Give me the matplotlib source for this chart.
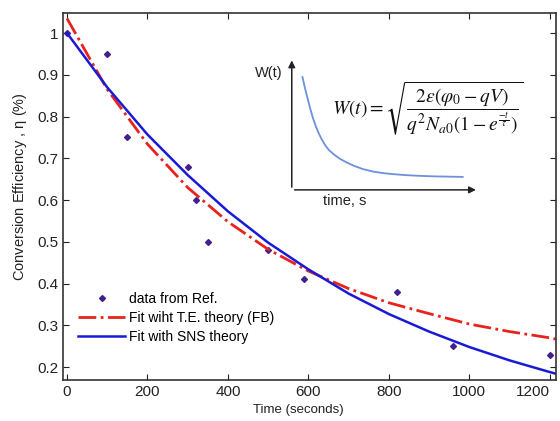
import numpy as np
import matplotlib
matplotlib.use('Agg')
import matplotlib.pyplot as plt

plt.rcParams['font.family'] = ['Liberation Sans', 'DejaVu Sans']
plt.rcParams['mathtext.fontset'] = 'stix'

# data
t_data = [0, 100, 150, 300, 320, 350, 500, 590, 820, 960, 1200]
eta_data = [1.0, 0.95, 0.75, 0.68, 0.60, 0.50, 0.48, 0.41, 0.38, 0.25, 0.23]

t_fit = [0, 100, 200, 300, 400, 500, 600, 700, 800, 900, 1000, 1100, 1200, 1215]
eta_te = [1.035, 0.865, 0.734, 0.630, 0.548, 0.482, 0.430, 0.388, 0.354, 0.328, 0.303, 0.285, 0.270, 0.267]
eta_sns = [1.0, 0.870, 0.757, 0.660, 0.573, 0.498, 0.434, 0.376, 0.327, 0.285, 0.248, 0.216, 0.188, 0.184]

# inset schematic curve W(t)
w_x = [0.06, 0.075, 0.09, 0.105, 0.12, 0.135, 0.15, 0.17, 0.19, 0.21, 0.24, 0.27,
       0.31, 0.35, 0.40, 0.46, 0.52, 0.58, 0.65, 0.72, 0.80, 0.88, 0.96]
w_y = [0.87, 0.78, 0.70, 0.62, 0.55, 0.49, 0.44, 0.385, 0.34, 0.305, 0.27, 0.24,
       0.21, 0.185, 0.16, 0.14, 0.128, 0.12, 0.113, 0.108, 0.104, 0.102, 0.10]

fig = plt.figure(figsize=(5.6, 4.21), dpi=100)
ax = fig.add_axes([0.1125, 0.0974, 0.880, 0.8716])

ax.plot(t_data, eta_data, 'D', color='#42208c', markersize=3, label='data from Ref.')
ax.plot(t_fit, eta_te, '-.', color='#e8231c', linewidth=2, label='Fit wiht T.E. theory (FB)')
ax.plot(t_fit, eta_sns, '-', color='#1a1ad6', linewidth=1.8, label='Fit with SNS theory')

ax.set_xlim(-10, 1215)
ax.set_ylim(0.169, 1.048)
ax.set_xticks([0, 200, 400, 600, 800, 1000, 1200])
ax.set_yticks([0.2, 0.3, 0.4, 0.5, 0.6, 0.7, 0.8, 0.9, 1])
ax.set_yticklabels(['0.2', '0.3', '0.4', '0.5', '0.6', '0.7', '0.8', '0.9', '1'])
ax.tick_params(direction='in', top=True, right=True, labelsize=11, colors='#222222', length=4)
ax.get_xticklabels()[-1].set_horizontalalignment('right')
ax.set_xlabel('Time (seconds)', fontsize=9.5, color='#222222')
ax.xaxis.set_label_coords(0.478, -0.066)
ax.set_ylabel('Conversion Efficiency , $\\mathregular{\\eta}$ (%)', fontsize=10.5, color='#222222')
ax.yaxis.set_label_coords(-0.07, 0.526)
for s in ax.spines.values():
    s.set_color('#333333')
    s.set_linewidth(1.2)

ax.legend(loc='lower left', bbox_to_anchor=(0.005, 0.065), frameon=False, fontsize=10,
          handlelength=3.4, handletextpad=0.3, labelspacing=0.35)

# inset
ins = fig.add_axes([0.521, 0.549, 0.318, 0.308])
ins.set_xlim(0, 1)
ins.set_ylim(0, 1)
ins.axis('off')
ins.annotate('', xy=(0, 1.02), xytext=(0, 0), xycoords='axes fraction',
             arrowprops=dict(arrowstyle='-|>', color='#222222', lw=1.1, mutation_scale=10))
ins.annotate('', xy=(1.05, 0), xytext=(0, 0), xycoords='axes fraction',
             arrowprops=dict(arrowstyle='-|>', color='#222222', lw=1.1, mutation_scale=10))
ins.plot(w_x, w_y, color='#6d8fdc', linewidth=1.3)
ins.text(-0.05, 0.9, 'W(t)', fontsize=10.5, ha='right', va='center', color='#222222')
ins.text(0.3, -0.03, 'time, s', fontsize=10.5, ha='center', va='top', color='#222222')
fig.text(0.592, 0.743,
         r'$W(t) = \sqrt{\dfrac{2\epsilon(\varphi_0 - qV)}{q^2N_{a0}(1 - e^{\frac{-t}{\tau}})}}$',
         fontsize=14, ha='left', va='center', color='#111111')

plt.savefig('out.png', dpi=100)
